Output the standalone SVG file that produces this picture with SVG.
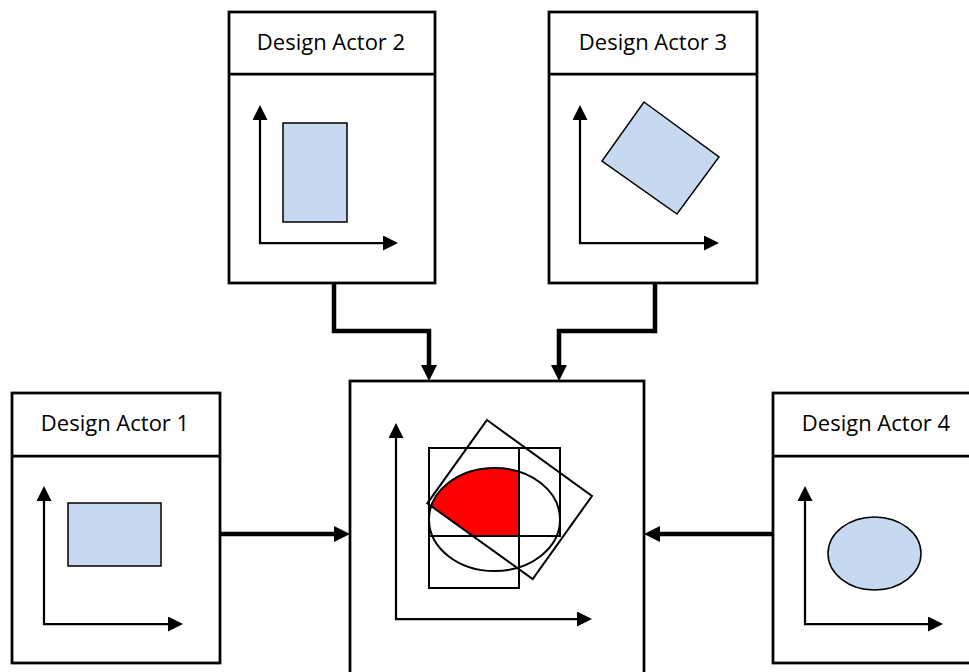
<svg xmlns="http://www.w3.org/2000/svg" width="969" height="672" viewBox="0 0 969 672">
<style>
.box{fill:#fff;stroke:#000;stroke-width:2.75}
.hdr{fill:none;stroke:#000;stroke-width:2.75}
.lbl{font-family:"Open Sans","Liberation Sans",sans-serif;font-size:22px;fill:#000;text-anchor:middle}
.axis{fill:none;stroke:#000;stroke-width:2.25;marker-start:url(#ah);marker-end:url(#ah)}
.shape{fill:#C6D9F1;stroke:#000;stroke-width:1.5}
.ov{fill:none;stroke:#000;stroke-width:2}
.conn{fill:none;stroke:#000;stroke-width:4.5;marker-end:url(#ch)}
</style>
<defs>
<marker id="ah" viewBox="0 0 15 15" refX="0" refY="7.5" markerWidth="15" markerHeight="15" markerUnits="userSpaceOnUse" orient="auto-start-reverse"><path d="M0,0 L15,7.5 L0,15 Z" fill="#000"/></marker>
<marker id="ch" viewBox="0 0 16 16" refX="0" refY="8" markerWidth="16" markerHeight="16" markerUnits="userSpaceOnUse" orient="auto"><path d="M0,0 L16,8 L0,16 Z" fill="#000"/></marker>
</defs>
<rect width="969" height="672" fill="#fff"/>

<g id="connectors">
<path class="conn" d="M220,534 H334"/>
<path class="conn" d="M773,534 H660"/>
<path class="conn" d="M334,283 V331 H429 V365"/>
<path class="conn" d="M655,283 V331 H559 V365"/>
</g>

<g id="actor2">
<rect class="box" x="229" y="12" width="206" height="271"/>
<line class="hdr" x1="229" y1="74" x2="435" y2="74"/>
<text class="lbl" x="331" y="50">Design Actor 2</text>
<path class="axis" d="M260,120 V243 H383"/>
<rect class="shape" x="283" y="123" width="64" height="99"/>
</g>

<g id="actor3">
<rect class="box" x="549" y="12" width="208" height="271"/>
<line class="hdr" x1="549" y1="74" x2="757" y2="74"/>
<text class="lbl" x="653" y="50">Design Actor 3</text>
<path class="axis" d="M580,120 V243 H704"/>
<polygon class="shape" points="644,102 719,157 677,214 602,161"/>
</g>

<g id="actor1">
<rect class="box" x="12" y="393" width="208" height="270"/>
<line class="hdr" x1="12" y1="456" x2="220" y2="456"/>
<text class="lbl" x="115" y="431">Design Actor 1</text>
<path class="axis" d="M44,501 V624 H168"/>
<rect class="shape" x="68" y="503" width="93" height="63"/>
</g>

<g id="actor4">
<rect class="box" x="773" y="393" width="208" height="270"/>
<line class="hdr" x1="773" y1="456" x2="981" y2="456"/>
<text class="lbl" x="876" y="431">Design Actor 4</text>
<path class="axis" d="M805,501 V624 H928"/>
<ellipse class="shape" cx="874.5" cy="553.5" rx="46.5" ry="36.5"/>
</g>

<g id="combined">
<rect class="box" x="350" y="381" width="294" height="310"/>
<path class="axis" d="M396,438 V619 H577"/>
<path d="M431.3,506 A65.5,51.5 0 0 1 519,471.7 L519,536 L472.8,536 Z" fill="#FF0000"/>
<rect class="ov" x="429" y="448" width="90" height="140"/>
<rect class="ov" x="429" y="448" width="131" height="88"/>
<ellipse class="ov" cx="494.5" cy="519.5" rx="65.5" ry="51.5"/>
<polygon class="ov" points="487,420 592,496 532.7,579 427.3,503.3"/>
</g>
</svg>
